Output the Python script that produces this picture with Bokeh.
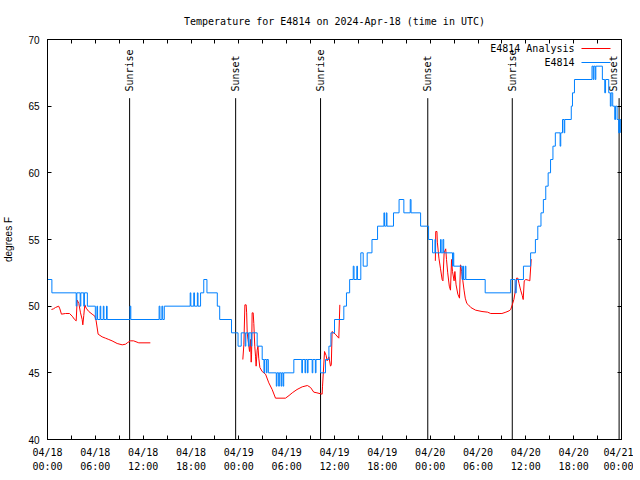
import numpy as np
from math import pi
from bokeh.plotting import figure
from bokeh.models import Range1d, LinearAxis, FixedTicker, Label, BoxAnnotation
from bokeh.core.properties import value
from bokeh.embed import file_html
from bokeh.resources import INLINE

TITLE = "Temperature for E4814 on 2024-Apr-18 (time in UTC)"
Y_LABEL = "degrees F"
SERIES_ANALYSIS = "E4814 Analysis"
SERIES_OBS = "E4814"

# x values are hours since 2024-04-18 00:00 UTC
x_tick_hours = [0, 6, 12, 18, 24, 30, 36, 42, 48, 54, 60, 66, 72]
x_tick_dates = ["04/18", "04/18", "04/18", "04/18", "04/19", "04/19", "04/19",
                "04/19", "04/20", "04/20", "04/20", "04/20", "04/21"]
x_tick_times = ["00:00", "06:00", "12:00", "18:00", "00:00", "06:00", "12:00",
                "18:00", "00:00", "06:00", "12:00", "18:00", "00:00"]
x_minor_hours = [3, 9, 15, 21, 27, 33, 39, 45, 51, 57, 63, 69]
y_ticks = [40, 45, 50, 55, 60, 65, 70]

event_hours = [10.3, 23.6, 34.25, 47.7, 58.3, 71.7]
event_names = ["Sunrise", "Sunset", "Sunrise", "Sunset", "Sunrise", "Sunset"]

# observed temperature (step series: value holds from each time to the next)
obs_hours = [0.0, 0.55,
             3.6, 3.68, 4.1, 4.18, 4.55, 4.63, 5.0,
             6.0, 6.2, 6.28, 6.6, 6.68, 7.0, 7.08, 7.4, 7.48,
             10.35, 10.45,
             14.0, 14.1, 14.35, 14.45, 14.65,
             17.9, 17.98, 18.35, 18.43, 18.8, 18.88, 19.2, 19.6, 20.0, 21.3, 21.6, 23.08,
             23.9, 24.3, 24.8, 24.88, 25.2, 25.28, 25.55, 25.63, 26.3, 26.93,
             27.15, 27.23, 27.45, 27.53, 27.7,
             28.7, 28.78, 29.0, 29.08, 29.3, 29.38, 29.55, 29.63, 30.9,
             31.9, 31.98, 32.3, 32.38, 32.6, 32.68, 33.2, 33.28, 33.6, 33.68, 34.24,
             34.87, 35.3, 35.55, 36.0, 37.17, 37.5, 37.9, 38.35, 38.45, 38.8, 38.88,
             39.3, 39.6, 40.1, 40.7, 41.4, 42.2, 42.28, 42.5, 42.58, 43.4, 44.1, 44.7,
             45.5, 45.6, 46.8, 47.8, 48.3, 48.6, 48.68, 49.3, 49.38, 49.6, 49.7,
             50.8, 50.88, 50.96, 52.0, 52.1, 52.18, 52.4, 52.48,
             54.9, 58.1, 58.65, 58.8, 59.7, 60.6, 61.2, 61.5, 61.9, 62.2, 62.5, 62.8,
             63.1, 63.4, 63.7, 64.3, 64.38, 64.6, 64.8, 64.88, 65.7, 65.85, 66.1,
             68.3, 68.45, 68.53, 68.7, 68.78, 69.6, 69.9, 70.0, 70.4, 70.6, 70.7, 70.9,
             71.15, 71.25, 71.45, 71.65, 71.75, 71.9]
obs_temps = [52, 51,
             50, 51, 50, 51, 50, 51, 50,
             49, 50, 49, 50, 49, 50, 49, 50, 49,
             50, 49,
             50, 49, 50, 49, 50,
             51, 50, 51, 50, 51, 50, 51, 52, 51, 50, 49, 48,
             47, 48, 47, 48, 47, 48, 47, 48, 47, 46,
             45, 46, 45, 46, 45,
             44, 45, 44, 45, 44, 45, 44, 45, 46,
             45, 46, 45, 46, 45, 46, 45, 46, 45, 46, 45,
             46, 47, 48, 49, 50, 51, 52, 53, 52, 53, 52,
             54, 53, 54, 55, 56, 57, 56, 57, 56, 57, 58, 57,
             58, 57, 56, 55, 54, 55, 54, 55, 54, 55, 54,
             53, 54, 53, 52, 53, 52, 53, 52,
             51, 52, 51, 52, 53, 54, 55, 56, 57, 58, 59, 60,
             61, 62, 63, 62, 63, 64, 63, 64, 65, 66, 67,
             68, 67, 68, 67, 68, 67, 66, 67, 66, 65, 66, 65,
             64, 65, 64, 63, 64, 63]

# analysis temperature (three separate runs)
ana1_hours = [0.5, 0.75, 1.0, 1.4, 1.55, 1.75, 2.26, 2.76, 3.1, 3.4, 3.6, 3.72, 3.93,
              4.14, 4.35, 4.43, 4.55, 4.68, 4.85, 5.18, 5.6, 5.94, 6.1, 6.35, 6.85,
              7.27, 7.69, 8.1, 8.74, 9.37, 9.8, 10.0, 10.4, 10.8, 11.45, 12.9]
ana1_temps = [49.75, 49.8, 49.9, 50.0, 49.8, 49.4, 49.45, 49.45, 49.25, 49.0, 48.9, 50.45, 50.2,
              49.5, 49.0, 48.6, 49.3, 50.1, 49.85, 49.6, 49.4, 49.25, 48.9, 47.9, 47.7,
              47.6, 47.5, 47.4, 47.2, 47.1, 47.15, 47.25, 47.4, 47.4, 47.25, 47.25]

ana2_hours = [24.5, 24.63, 24.76, 24.92, 24.98, 25.05, 25.15, 25.26, 25.34, 25.46, 25.55,
              25.6, 25.67, 25.8, 25.88, 26.0, 26.1, 26.17, 26.3, 26.4, 26.5, 26.64, 26.93,
              27.35, 27.76, 28.18, 28.6, 29.85, 30.3, 30.7, 31.3, 31.95, 32.6, 33.0, 33.4,
              33.8, 34.45, 34.5, 34.75, 34.95, 35.08, 35.3, 35.5, 35.6, 35.7, 35.9, 36.1,
              36.54, 36.67]
ana2_temps = [46.0, 47.1, 50.1, 50.1, 49.5, 48.0, 47.5, 47.0, 46.6, 47.5, 45.8,
              46.4, 49.5, 49.5, 48.7, 47.0, 46.2, 45.5, 46.7, 47.0, 46.1, 45.4, 45.1,
              44.9, 44.25, 43.75, 43.1, 43.1, 43.3, 43.5, 43.75, 43.95, 44.05, 43.9, 43.55,
              43.5, 43.4, 44.0, 46.6, 46.3, 45.9, 46.2, 45.5, 45.6, 48.1, 48.0, 47.9,
              47.6, 50.1]

ana3_hours = [48.65, 48.7, 48.85, 48.9, 49.1, 49.3, 49.5, 49.6, 49.75, 49.95, 50.05,
              50.2, 50.4, 50.55, 50.68, 50.8, 51.0, 51.1, 51.25, 51.47, 51.68, 51.8,
              51.95, 52.1, 52.25, 52.4, 52.6, 52.8, 53.1, 53.7, 54.5, 55.2, 55.6, 57.0,
              57.5, 57.9, 58.1, 58.3, 58.5, 58.7, 58.83, 59.0, 59.15, 59.35, 59.55, 59.67,
              59.8, 60.0, 60.3, 60.5, 60.67, 60.72]
ana3_temps = [53.4, 55.6, 55.6, 54.8, 53.6, 52.8, 52.0, 51.9, 54.0, 54.3, 53.5,
              52.5, 51.5, 51.2, 53.5, 52.6, 51.9, 52.6, 51.6, 50.9, 50.6, 53.1,
              52.6, 51.9, 51.2, 50.6, 50.2, 50.1, 49.9, 49.7, 49.6, 49.55, 49.45, 49.45,
              49.55, 49.65, 49.75, 50.1, 50.5, 51.2, 52.1, 52.1, 51.7, 51.2, 50.8, 50.5,
              51.9, 52.0, 51.95, 51.9, 53.5, 53.5]

RED = "#ff0000"
BLUE = "#0080ff"
MONO = "DejaVu Sans Mono"
SANS = "Liberation Sans"

p = figure(frame_width=574, frame_height=400, output_backend="svg", toolbar_location=None,
           x_range=Range1d(0, 72), y_range=Range1d(40, 70),
           x_axis_location=None, y_axis_location=None, min_border=0)
p.outline_line_color = "black"
p.background_fill_color = "white"
p.border_fill_color = "white"
for g in p.grid:
    g.visible = False

p.title.text = TITLE
p.title.text_font = MONO
p.title.text_font_size = "10px"
p.title.text_font_style = "normal"
p.title.text_color = "black"
p.title.align = "center"
p.title.standoff = 26

def style_x_axis(ax):
    ax.axis_line_color = "black"
    ax.major_tick_in = 4
    ax.major_tick_out = 0
    ax.minor_tick_in = 4
    ax.minor_tick_out = 0
    ax.major_label_text_font = MONO
    ax.major_label_text_font_size = "10px"
    ax.major_label_text_color = "black"

ax_bottom = LinearAxis(
    ticker=FixedTicker(ticks=x_tick_hours, minor_ticks=x_minor_hours),
    major_label_overrides={h: d + "\n" + t for h, d, t in zip(x_tick_hours, x_tick_dates, x_tick_times)})
style_x_axis(ax_bottom)
ax_bottom.major_label_standoff = 7
ax_bottom.major_label_text_line_height = 1.35
p.add_layout(ax_bottom, "below")

ax_top = LinearAxis(ticker=FixedTicker(ticks=x_tick_hours, minor_ticks=x_minor_hours),
                    major_label_overrides={h: "" for h in x_tick_hours})
style_x_axis(ax_top)
ax_top.major_label_standoff = 0
p.add_layout(ax_top, "above")

ax_left = LinearAxis(ticker=FixedTicker(ticks=y_ticks, minor_ticks=[]), axis_label=Y_LABEL)
ax_left.axis_line_color = "black"
ax_left.major_tick_in = 4
ax_left.major_tick_out = 0
ax_left.major_label_standoff = 8
ax_left.major_label_text_font = SANS
ax_left.major_label_text_font_size = "10px"
ax_left.major_label_text_color = "black"
ax_left.axis_label_text_font = SANS
ax_left.axis_label_text_font_size = "10px"
ax_left.axis_label_text_font_style = "normal"
ax_left.axis_label_text_color = "black"
ax_left.axis_label_standoff = 11
p.add_layout(ax_left, "left")

# right mirror axis: ticks only; a blank axis label reserves a narrow right margin
ax_right = LinearAxis(ticker=FixedTicker(ticks=y_ticks, minor_ticks=[]),
                      major_label_overrides={t: "" for t in y_ticks}, axis_label=" ")
ax_right.axis_line_color = "black"
ax_right.major_tick_in = 4
ax_right.major_tick_out = 0
ax_right.major_label_standoff = 0
ax_right.axis_label_standoff = 0
ax_right.axis_label_text_font_size = "8px"
p.add_layout(ax_right, "right")

# sunrise / sunset markers
p.segment(x0=event_hours, y0=[40] * len(event_hours), x1=event_hours,
          y1=[65.6] * len(event_hours), line_color="black", line_width=1)
p.text(x=event_hours[:-1], y=[66.1] * (len(event_hours) - 1), text=event_names[:-1],
       angle=pi / 2, text_align="left", text_baseline="middle", text_font=value(MONO),
       text_font_size="10px", text_color="black")
# the last label sits against the right border: keep it inside the frame
p.text(x=event_hours[-1:], y=[66.1], text=event_names[-1:],
       angle=pi / 2, text_align="left", text_baseline="bottom", text_font=value(MONO),
       text_font_size="10px", text_color="black")

# data
p.line(ana1_hours, ana1_temps, line_color=RED, line_width=1)
p.line(ana2_hours, ana2_temps, line_color=RED, line_width=1)
p.line(ana3_hours, ana3_temps, line_color=RED, line_width=1)
p.step(obs_hours, obs_temps, mode="after", line_color=BLUE, line_width=1)

# legend (gnuplot style: text then sample line)
for i, (name, col) in enumerate([(SERIES_ANALYSIS, RED), (SERIES_OBS, BLUE)]):
    ly = 391 - 14 * i
    p.add_layout(Label(x=527, y=ly, x_units="screen", y_units="screen", text=name,
                       text_align="right", text_baseline="middle", text_font=MONO,
                       text_font_size="10px", text_color="black"))
    p.add_layout(BoxAnnotation(left=534, right=563, bottom=ly - 0.5, top=ly + 0.5,
                               left_units="screen", right_units="screen",
                               bottom_units="screen", top_units="screen",
                               fill_color=col, fill_alpha=1.0, line_color=None))

open("out.html", "w").write(file_html(p, INLINE))
